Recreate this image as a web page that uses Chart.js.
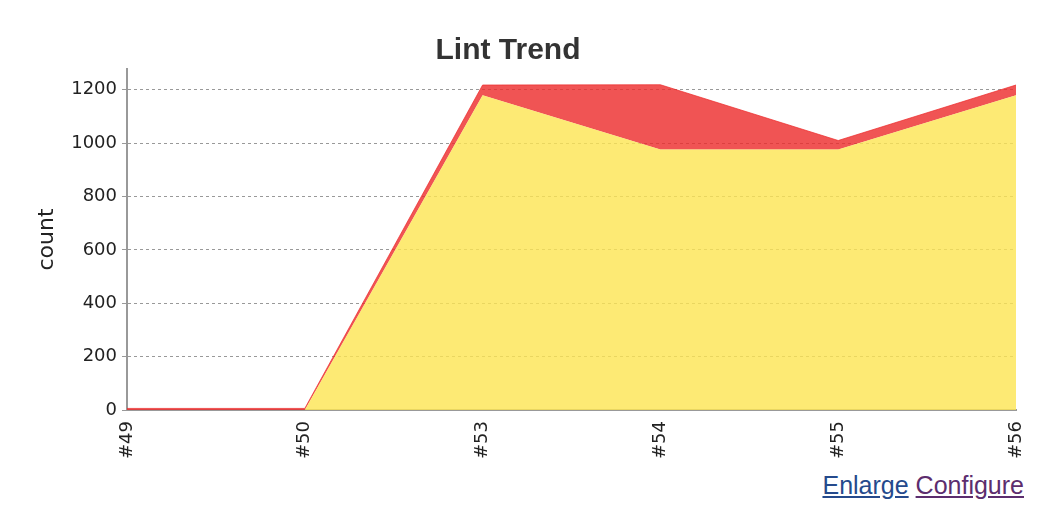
<!DOCTYPE html>
<html>
<head>
<meta charset="utf-8">
<script src="https://cdn.jsdelivr.net/npm/chart.js@4"></script>
<style>
  body { margin: 0; background: #fff; font-family: "Liberation Sans", Arial, sans-serif; }
  #wrap { position: relative; width: 1051px; height: 470px; }
  #links { position: absolute; top: 471px; right: 27px; font-size: 25px; }
  #links a { text-decoration: underline; }
  .enlarge { color: #254a8c; }
  .configure { color: #5c2d6e; }
</style>
</head>
<body>
<div id="wrap"><canvas id="lintChart" width="1051" height="470"></canvas></div>
<div id="links"><a class="enlarge" href="#">Enlarge</a> <a class="configure" href="#">Configure</a></div>
<script>
// builds
const builds = ['#49', '#50', '#53', '#54', '#55', '#56'];
// lint counts per severity
const lowCount = [0, 0, 1180, 976, 976, 1180];
const highCount = [6, 6, 38, 243, 34, 38];
const yTicks = [0, 200, 400, 600, 800, 1000, 1200];

const ctx = document.getElementById('lintChart');

new Chart(ctx, {
  type: 'line',
  data: {
    labels: builds,
    datasets: [{
      label: 'low',
      data: lowCount,
      backgroundColor: 'rgba(252,229,81,0.8)',
      borderColor: 'rgba(252,229,81,0.8)',
      borderWidth: 0,
      pointRadius: 0,
      fill: 'origin',
      tension: 0
    }, {
      label: 'high',
      data: highCount,
      backgroundColor: 'rgba(236,41,41,0.8)',
      borderColor: 'rgba(236,41,41,0.7)',
      borderWidth: 1,
      pointRadius: 0,
      fill: '-1',
      tension: 0
    }]
  },
  options: {
    responsive: false,
    animation: false,
    layout: { padding: { left: 0, right: 35, top: 13, bottom: 0 } },
    plugins: {
      legend: { display: false },
      tooltip: { enabled: false },
      title: {
        display: true,
        text: 'Lint Trend',
        color: '#333',
        font: { family: 'Liberation Sans', size: 30, weight: 'bold' },
        padding: { top: 20, bottom: 0 }
      }
    },
    scales: {
      x: {
        offset: false,
        grid: { display: false, drawTicks: false },
        border: { color: '#999', width: 2 },
        ticks: {
          color: '#222',
          font: { family: 'DejaVu Sans', size: 18 },
          minRotation: 90,
          maxRotation: 90,
          padding: 11
        }
      },
      y: {
        stacked: true,
        min: 0,
        max: 1278,
        afterBuildTicks: axis => { axis.ticks = yTicks.map(v => ({ value: v })); },
        afterFit: axis => { axis.width = 127; },
        grid: {
          color: '#999',
          tickColor: '#999',
          tickLength: 5
        },
        border: { color: '#999', width: 2, dash: [3, 3] },
        ticks: {
          color: '#222',
          font: { family: 'DejaVu Sans', size: 18 },
          padding: 5,
          callback: v => String(v)
        },
        title: {
          display: true,
          text: 'count',
          color: '#222',
          font: { family: 'DejaVu Sans', size: 22 },
          padding: { top: 34, bottom: 0 }
        }
      }
    }
  }
});
</script>
</body>
</html>
